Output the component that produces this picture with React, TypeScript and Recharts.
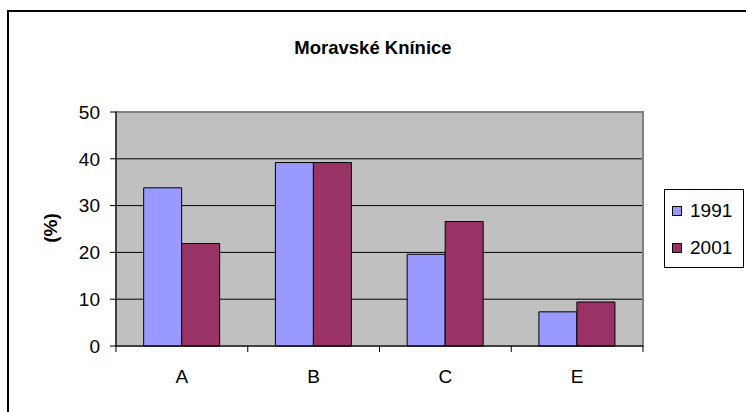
import React from "react";
import { BarChart, Bar, XAxis, YAxis, CartesianGrid, Legend, ReferenceArea } from "recharts";

const categories = ["A", "B", "C", "E"];
const values1991 = [33.8, 39.2, 19.6, 7.3];
const values2001 = [21.9, 39.2, 26.6, 9.4];
const yTicks = [0, 10, 20, 30, 40, 50];
const seriesNames = ["1991", "2001"];
const seriesColors = ["#9999FF", "#993366"];

const FONT = "Arial, 'Liberation Sans', sans-serif";
const X_TICK_SIZE = 6;
const X_TICK_MARGIN = 18;

const data = categories.map((c, i) => ({
  name: c,
  s1991: values1991[i],
  s2001: values2001[i],
}));

// category label plus Excel-style tick marks at the band edges
const CategoryTick = (props: any) => {
  const { x, y, payload, index } = props;
  const half = payload.offset || 0;
  const axisY = y - X_TICK_SIZE - X_TICK_MARGIN;
  const last = index === categories.length - 1;
  return (
    <g>
      <line x1={x - half} x2={x - half} y1={axisY} y2={axisY + X_TICK_SIZE} stroke="#000" />
      {last && <line x1={x + half} x2={x + half} y1={axisY} y2={axisY + X_TICK_SIZE} stroke="#000" />}
      <text x={x} y={y} dy="0.71em" textAnchor="middle" fill="#000" fontSize={19} fontFamily={FONT}>
        {payload.value}
      </text>
    </g>
  );
};

// legend box like the old Excel one
const LegendBox = () => (
  <div
    style={{
      width: 78,
      height: 75,
      border: "1px solid #000",
      background: "#fff",
      fontFamily: FONT,
      fontSize: 19,
      boxSizing: "content-box",
      paddingTop: 2,
    }}
  >
    {seriesNames.map((n, i) => (
      <div key={n} style={{ display: "flex", alignItems: "center", height: 37, paddingLeft: 7 }}>
        <span
          style={{
            display: "inline-block",
            width: 8,
            height: 8,
            background: seriesColors[i],
            border: "1px solid #000",
            marginRight: 8,
          }}
        />
        <span>{n}</span>
      </div>
    ))}
  </div>
);

export default function App() {
  return (
    <div style={{ position: "absolute", left: 0, top: 0, width: 746, height: 412, overflow: "hidden", background: "#fff" }}>
      {/* outer chart border, cut off at right and bottom */}
      <div
        style={{
          position: "absolute",
          left: 7,
          top: 10,
          width: 760,
          height: 420,
          border: "2px solid #000",
        }}
      />
      <div
        style={{
          position: "absolute",
          left: 0,
          width: 746,
          top: 37,
          textAlign: "center",
          fontFamily: FONT,
          fontWeight: "bold",
          fontSize: 18.5,
        }}
      >
        Moravské Knínice
      </div>
      <div style={{ position: "absolute", left: 0, top: 0 }}>
        <BarChart
          width={746}
          height={412}
          data={data}
          margin={{ top: 112, right: 103, bottom: 26, left: 56 }}
          barCategoryGap="21%"
          barGap={0}
        >
          <CartesianGrid
            vertical={false}
            horizontalValues={[10, 20, 30, 40]}
            stroke="#000"
            fill="#C0C0C0"
            fillOpacity={1}
          />
          <ReferenceArea y1={0} y2={50} fill="none" stroke="#808080" strokeWidth={2} ifOverflow="visible" />
          <XAxis
            dataKey="name"
            tickLine={false}
            tickSize={X_TICK_SIZE}
            tickMargin={X_TICK_MARGIN}
            height={40}
            axisLine={{ stroke: "#000" }}
            tick={<CategoryTick />}
          />
          <YAxis
            domain={[0, 50]}
            ticks={yTicks}
            width={60}
            tickSize={6}
            tickMargin={10}
            axisLine={{ stroke: "#000" }}
            tickLine={{ stroke: "#000" }}
            tick={{ fill: "#000", fontSize: 19, fontFamily: FONT }}
            label={() => (
              <text
                x={50}
                y={228}
                transform="rotate(-90, 50, 228)"
                textAnchor="middle"
                dominantBaseline="central"
                fontFamily={FONT}
                fontWeight="bold"
                fontSize={19}
                fill="#000"
              >
                (%)
              </text>
            )}
          />
          <Legend
            layout="horizontal"
            verticalAlign="middle"
            align="center"
            content={() => <LegendBox />}
            wrapperStyle={{ left: 664, top: 189, width: 80, right: "auto", bottom: "auto" }}
          />
          <Bar dataKey="s1991" name={seriesNames[0]} fill={seriesColors[0]} stroke="#000" strokeWidth={1} isAnimationActive={false} />
          <Bar dataKey="s2001" name={seriesNames[1]} fill={seriesColors[1]} stroke="#000" strokeWidth={1} isAnimationActive={false} />
        </BarChart>
      </div>
    </div>
  );
}
